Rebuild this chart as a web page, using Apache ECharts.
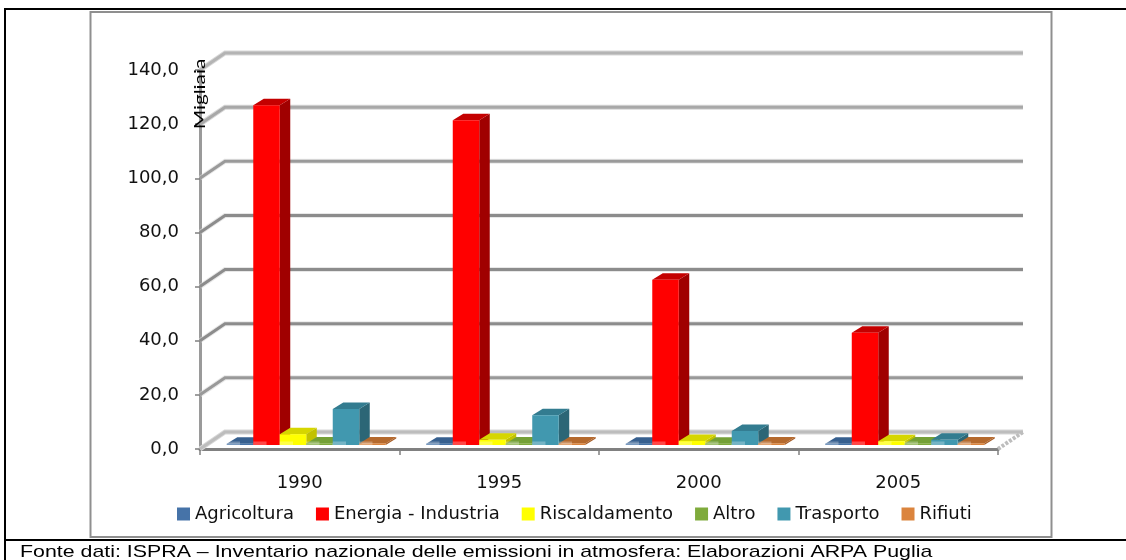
<!DOCTYPE html>
<html><head><meta charset="utf-8">
<style>html,body{margin:0;padding:0;background:#fff}#c{width:1126px;height:560px}</style>
<script src="https://cdn.jsdelivr.net/npm/echarts@6/dist/echarts.min.js"></script>
</head><body><div id="c"></div>
<script>
const years = ['1990','1995','2000','2005'];
const yTicks = [0,20,40,60,80,100,120,140];
const agricoltura = [0.5,0.5,0.5,0.5];
const energia = [125.5,120,61,41.5];
const riscaldamento = [4,1.9,1.5,1.4];
const altro = [0.6,0.6,0.5,0.6];
const trasporto = [13.3,11,5.2,1.9];
const rifiuti = [0.6,0.6,0.6,0.6];
const names = ['Agricoltura','Energia - Industria','Riscaldamento','Altro','Trasporto','Rifiuti'];
const values = [agricoltura,energia,riscaldamento,altro,trasporto,rifiuti];
const front = ['#4673a8','#ff0000','#ffff00','#7fab3c','#4198af','#db843d'];
const topc  = ['#37608f','#c40000','#d6d600','#74a037','#337c90','#b56a2e'];
const sidec = ['#2f5179','#a00000','#c2c200','#5f8a2e','#2c6676','#a85f2a'];
const gridCols = ['#bdbdbd','#999999','#8c8c8c','#8c8c8c','#8c8c8c','#9a9a9a','#a8a8a8','#b4b4b4'];
const FONT = 'DejaVu Sans';
const chart = echarts.init(document.getElementById('c'),null,{renderer:'canvas'});
const barSeries = names.map((n,i)=>({
  name:n,type:'custom',z:5,itemStyle:{color:front[i]},
  encode:{x:0,y:1},
  data:values[i].map((v,k)=>[k,v]),
  renderItem(params,api){
    const k=api.value(0),v=api.value(1);
    const p0=api.coord([k,0]),p1=api.coord([k,v]);
    const bw=api.size([1,0])[0]/7.53, dx=10.5, dy=6.5, ox=6.5, oy=-4;
    const l=p0[0]+(i-3)*bw+ox, r=l+bw, b=p0[1]+oy, t=p1[1]+oy;
    const shape=pts=>({points:pts});
    return {type:'group',children:[
      {type:'polygon',shape:shape([[r,b],[r+dx,b-dy],[r+dx,t-dy],[r,t]]),style:{fill:sidec[i]}},
      {type:'polygon',shape:shape([[l,t],[l+dx,t-dy],[r+dx,t-dy],[r,t]]),style:{fill:topc[i]}},
      {type:'rect',shape:{x:l,y:t,width:bw,height:b-t},style:{fill:front[i]}},
      {type:'rect',shape:{x:l,y:b-3.5,width:bw*0.5,height:3.5},style:{fill:'rgba(255,255,255,0.28)'}}
    ]};
  }
}));
const wall={
  type:'custom',z:1,silent:true,
  encode:{y:0},
  data:yTicks.map(v=>[v]),
  renderItem(params,api){
    const v=api.value(0),idx=params.dataIndex;
    const c0=api.coord([0,v]),c3=api.coord([3,v]),w=api.size([1,0])[0];
    const xl=c0[0]-w/2,xr=c3[0]+w/2,y=c0[1],dx=25,dy=17;
    const col=gridCols[idx];
    const kids=[
      {type:'polyline',shape:{points:[[xl,y],[xl+dx,y-dy],[xr+dx,y-dy]]},style:{fill:null,stroke:'#d8d8d8',lineWidth:5,opacity:idx==0||idx>=6?1:0.6}},
      {type:'polyline',shape:{points:[[xl,y],[xl+dx,y-dy],[xr+dx,y-dy]]},style:{fill:null,stroke:col,lineWidth:3}}
    ];
    if(idx===0){kids.push({type:'line',shape:{x1:xr,y1:y,x2:xr+dx,y2:y-dy},style:{stroke:'#bdbdbd',lineWidth:4,lineDash:[3,1.5]}});}
    return {type:'group',children:kids};
  }
};
chart.setOption({
  animation:false,
  backgroundColor:'#fff',
  grid:{left:200,top:70,width:798,height:379,containLabel:false},
  legend:{data:names,left:172,top:500,icon:'rect',itemWidth:13,itemHeight:13,itemGap:22,selectedMode:false,
    textStyle:{fontFamily:FONT,fontSize:18,color:'#111'}},
  xAxis:{type:'category',data:years,axisLine:{lineStyle:{color:'#808080',width:3}},
    axisTick:{show:true,length:6,alignWithLabel:false,lineStyle:{color:'#808080',width:1.5}},
    axisLabel:{fontFamily:FONT,fontSize:18,color:'#111',margin:25},splitLine:{show:false}},
  yAxis:{type:'value',min:0,max:140,interval:20,
    axisLine:{show:true,lineStyle:{color:'#9a9a9a',width:3}},
    axisTick:{show:true,length:5,lineStyle:{color:'#808080',width:1.5}},
    splitLine:{show:false},
    axisLabel:{fontFamily:FONT,fontSize:18,color:'#111',margin:21,formatter:v=>v.toFixed(1).replace('.',',')}},
  graphic:[
    {type:'rect',z:0,silent:true,shape:{x:90.5,y:12,width:961,height:525},style:{fill:'#fff',stroke:'#8f8f8f',lineWidth:2}},
    {type:'line',z:0,silent:true,shape:{x1:4,y1:9,x2:1126,y2:9},style:{stroke:'#000',lineWidth:2}},
    {type:'line',z:0,silent:true,shape:{x1:5,y1:9,x2:5,y2:560},style:{stroke:'#000',lineWidth:2}},
    {type:'line',z:0,silent:true,shape:{x1:5,y1:540,x2:1126,y2:540},style:{stroke:'#000',lineWidth:2}},
    {type:'text',z:100,silent:true,rotation:Math.PI/2,scaleX:1.3,x:200,y:94,style:{text:'Migliaia',fontFamily:'Lato',fontSize:16,fill:'#000',align:'center',verticalAlign:'middle'}},
    {type:'text',z:100,silent:true,scaleX:1.256,x:20,y:552.5,style:{text:'Fonte dati: ISPRA – Inventario nazionale delle emissioni in atmosfera: Elaborazioni ARPA Puglia',fontFamily:'Liberation Sans',fontSize:17,fill:'#000',align:'left',verticalAlign:'middle'}}
  ],
  series:[wall,...barSeries]
});
</script></body></html>
